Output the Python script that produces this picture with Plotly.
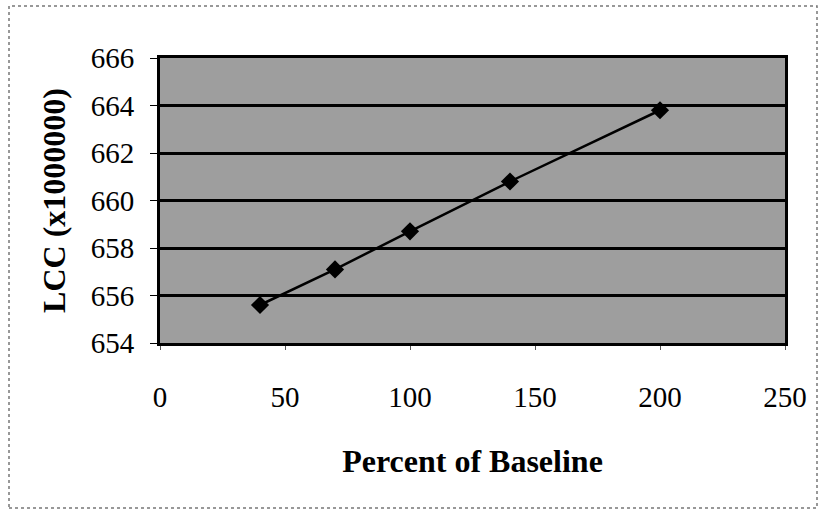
import plotly.graph_objects as go

# Data
percent_of_baseline = [40, 70, 100, 140, 200]
lcc_millions = [655.6, 657.1, 658.7, 660.8, 663.8]

x_ticks = [0, 50, 100, 150, 200, 250]
y_ticks = [654, 656, 658, 660, 662, 664, 666]

W, H = 819, 510
L, R, T, B = 160, 34, 58, 167
pw, ph = W - L - R, H - T - B

fig = go.Figure()
fig.add_trace(go.Scatter(
    x=percent_of_baseline, y=lcc_millions,
    mode="lines+markers",
    line=dict(color="black", width=2.5),
    marker=dict(symbol="diamond", size=14, color="black"),
    showlegend=False,
))

serif = "Liberation Serif, Times New Roman, serif"

fig.update_layout(
    width=W, height=H,
    margin=dict(l=L, r=R, t=T, b=B, pad=0),
    paper_bgcolor="white",
    plot_bgcolor="#9e9e9e",
    font=dict(family=serif, color="black"),
    xaxis=dict(
        range=[0, 250], tickvals=x_ticks, ticktext=[str(v) for v in x_ticks],
        showgrid=False, zeroline=False,
        showline=True, linecolor="black", linewidth=3, mirror=True,
        ticks="outside", ticklen=4, tickcolor="#555", tickwidth=1,
        ticklabelstandoff=22,
        tickfont=dict(size=29, family=serif),
        title=dict(text="<b>Percent of Baseline</b>", font=dict(size=32, family=serif), standoff=38),
    ),
    yaxis=dict(
        range=[654, 666], tickvals=y_ticks, ticktext=[str(v) for v in y_ticks],
        showgrid=True, gridcolor="black", gridwidth=2.5, zeroline=False,
        showline=True, linecolor="black", linewidth=3, mirror=True,
        ticks="outside", ticklen=7, tickcolor="black", tickwidth=1,
        ticklabelstandoff=10,
        tickfont=dict(size=29, family=serif),
        title=dict(text="<b>LCC (x1000000)</b>", font=dict(size=32, family=serif), standoff=16),
    ),
)

# dotted outer frame of the chart area
fig.add_shape(
    type="rect", xref="paper", yref="paper",
    x0=(9 - L) / pw, x1=(817 - L) / pw,
    y0=(H - B - 508) / ph, y1=(H - B - 6) / ph,
    line=dict(color="#777", width=1.5, dash="dot"),
    layer="below",
)

fig.write_html("out.html")
